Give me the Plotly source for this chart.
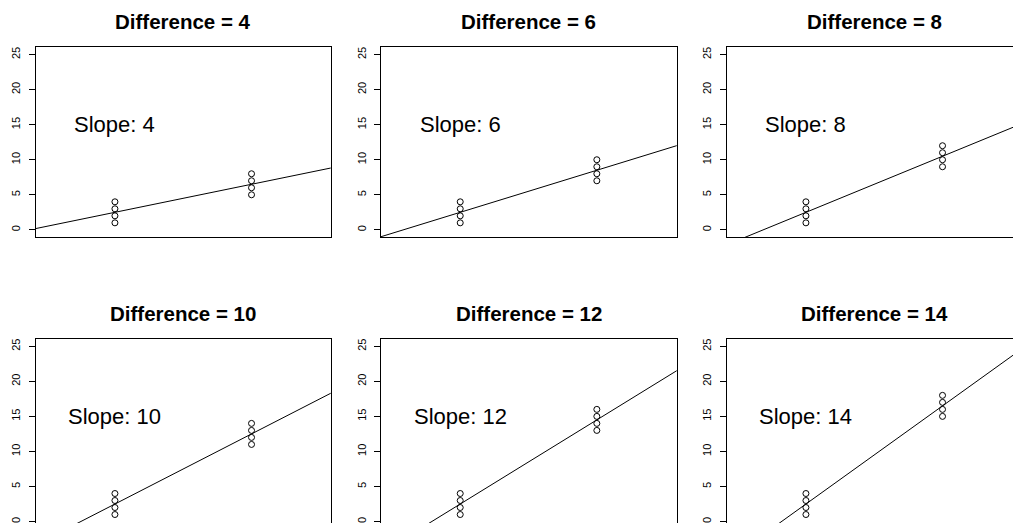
import numpy as np
import plotly.graph_objects as go

differences = [4, 6, 8, 10, 12, 14]
group_x = [0, 0, 0, 0, 1, 1, 1, 1]
group_a = [1, 2, 3, 4]
group_b = [
    [5, 6, 7, 8],
    [7, 8, 9, 10],
    [9, 10, 11, 12],
    [11, 12, 13, 14],
    [13, 14, 15, 16],
    [15, 16, 17, 18],
]
y_ticks = [0, 5, 10, 15, 20, 25]

W, H = 1013, 523

# panel boxes in pixels (the last column and the bottom row run off the page)
col_px = [(35.7, 330.7), (381.0, 676.7), (726.7, 1013.0)]
row_px = [(47.3, 237.3), (339.0, 523.0)]
px_per_x = 136.6
px_per_y = 7.01
x_left = -0.58
y_top = 26.04

fig = go.Figure()
layout = {}
annotations = []

for i, d in enumerate(differences):
    r, c = divmod(i, 3)
    n = i + 1
    xa = "x" if n == 1 else f"x{n}"
    ya = "y" if n == 1 else f"y{n}"
    xkey = "xaxis" if n == 1 else f"xaxis{n}"
    ykey = "yaxis" if n == 1 else f"yaxis{n}"

    x0p, x1p = col_px[c]
    y0p, y1p = row_px[r]
    x_right = x_left + (x1p - x0p) / px_per_x
    y_bottom = y_top - (y1p - y0p) / px_per_y

    ys = group_a + group_b[i]
    slope, intercept = np.polyfit(group_x, ys, 1)
    lx = np.array([-0.6, 1.6])

    fig.add_trace(go.Scatter(
        x=lx, y=intercept + slope * lx, mode="lines",
        line=dict(color="black", width=1),
        xaxis=xa, yaxis=ya, showlegend=False, hoverinfo="skip"
    ))
    fig.add_trace(go.Scatter(
        x=group_x, y=ys, mode="markers",
        marker=dict(symbol="circle-open", size=6, color="black",
                    line=dict(color="black", width=1)),
        xaxis=xa, yaxis=ya, showlegend=False
    ))

    layout[xkey] = dict(
        domain=[x0p / W, x1p / W], range=[x_left, x_right],
        anchor=ya, showgrid=False, zeroline=False,
        showticklabels=False, ticks="",
        showline=True, linecolor="black", linewidth=1,
        mirror=(r == 0), side="bottom" if r == 0 else "top",
    )
    layout[ykey] = dict(
        domain=[(H - y1p) / H, (H - y0p) / H], range=[y_bottom, y_top],
        anchor=xa, showgrid=False, zeroline=False,
        tickvals=y_ticks, ticks="outside", ticklen=6, tickcolor="black",
        tickangle=-90, tickfont=dict(size=11, color="black"),
        ticklabelstandoff=4,
        showline=True, linecolor="black", linewidth=1,
        mirror=(c < 2),
    )

    annotations.append(dict(
        text=f"<b>Difference = {d}</b>", xref="paper", yref="paper",
        x=(x0p + 295.3 / 2) / W, y=(H - (y0p - 26)) / H,
        showarrow=False, font=dict(size=20.5, color="black"),
        xanchor="center", yanchor="middle"
    ))
    annotations.append(dict(
        text=f"Slope: {d}", xref=xa, yref=ya, x=0, y=15,
        showarrow=False, font=dict(size=22, color="black"),
        xanchor="center", yanchor="middle"
    ))

fig.update_layout(
    width=W, height=H,
    margin=dict(l=0, r=0, t=0, b=0),
    paper_bgcolor="white", plot_bgcolor="white",
    font=dict(family="Liberation Sans, Arial, sans-serif", color="black"),
    annotations=annotations,
    **layout
)

fig.write_html("out.html", config={"displayModeBar": False},
               post_script="document.body.style.margin='0px';")
